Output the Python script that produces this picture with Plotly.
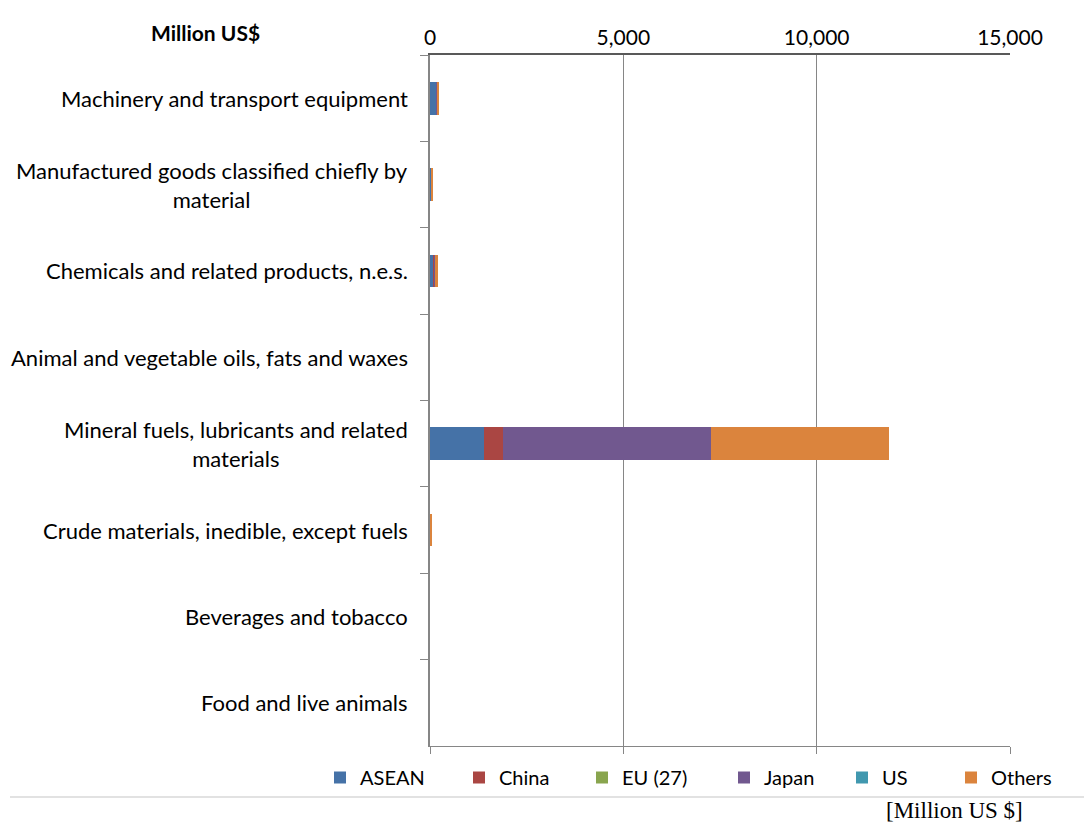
import plotly.graph_objects as go

categories = [
    "Machinery and transport equipment",
    "Manufactured goods classified chiefly by<br>material",
    "Chemicals and related products, n.e.s.",
    "Animal and vegetable oils, fats and waxes",
    "Mineral fuels, lubricants and related<br>materials",
    "Crude materials, inedible, except fuels",
    "Beverages and tobacco",
    "Food and live animals",
]
series_names = ["ASEAN", "China", "EU (27)", "Japan", "US", "Others"]
asean = [170, 30, 100, 0, 1400, 0, 0, 0]
china = [5, 5, 20, 0, 500, 0, 0, 0]
eu27 = [2, 0, 2, 0, 0, 0, 0, 0]
japan = [5, 10, 10, 0, 5360, 0, 0, 0]
us = [3, 0, 2, 0, 0, 0, 0, 0]
others = [55, 30, 70, 0, 4620, 50, 0, 0]
values = [asean, china, eu27, japan, us, others]
colors = ["#4572A7", "#AA4643", "#89A54E", "#71588F", "#4198AF", "#DB843D"]
x_ticks = [0, 5000, 10000, 15000]

font_family = "Lato, 'Open Sans', sans-serif"

# page body has an 8px margin; work in reference pixels and shift
OFF = 8
W, H = 1092 - 2 * OFF, 831 - 2 * OFF
L, R, T, B = 430 - OFF, 1010 - OFF, 55 - OFF, 746 - OFF
pw, ph = R - L, B - T


def px_x(x):
    return (x - OFF - L) / pw


def px_y(y):
    return (B - (y - OFF)) / ph


legend_widths = [94, 78, 97, 73, 64, 60]

fig = go.Figure()
for name, vals, col, lw in zip(series_names, values, colors, legend_widths):
    fig.add_trace(go.Bar(
        y=categories, x=vals, name=name, orientation="h",
        marker=dict(color=col, line=dict(width=0)), legendwidth=lw,
    ))

# invisible helper trace for the bottom axis ticks
fig.add_trace(go.Scatter(x=[0, 15000], y=[categories[0], categories[0]], xaxis="x2",
                         mode="markers", marker=dict(opacity=0), showlegend=False,
                         hoverinfo="skip"))

fig.update_layout(
    barmode="stack",
    bargap=0.62,
    width=W, height=H,
    margin=dict(l=L, r=W - R, t=T, b=H - B, autoexpand=False),
    paper_bgcolor="white", plot_bgcolor="white",
    font=dict(family=font_family, size=22, color="#000000"),
    xaxis=dict(
        side="top", range=[0, 15000], tickvals=x_ticks, tickformat=",",
        showgrid=True, gridcolor="#868686", gridwidth=1,
        showline=True, linecolor="#595959", linewidth=1.5,
        ticks="", zeroline=False, tickfont=dict(size=21), automargin=False,
        fixedrange=True,
    ),
    xaxis2=dict(
        overlaying="x", side="bottom", anchor="y", range=[0, 15000], tickvals=x_ticks,
        showticklabels=False, ticks="outside", ticklen=7, tickcolor="#868686",
        showline=True, linecolor="#868686", linewidth=1, showgrid=False, zeroline=False,
        automargin=False,
    ),
    yaxis=dict(
        autorange="reversed", showticklabels=False, automargin=False,
        ticks="outside", tickson="boundaries", ticklen=8, tickcolor="#868686",
        showline=True, linecolor="#868686", linewidth=1.5, showgrid=False,
    ),
    legend=dict(
        orientation="h",
        x=px_x(320), y=px_y(758), xanchor="left", yanchor="top",
        font=dict(size=20), itemwidth=30, traceorder="normal",
        bgcolor="rgba(0,0,0,0)",
    ),
    showlegend=True,
)

# category labels (centered lines, right-anchored block)
for cat in categories:
    fig.add_annotation(
        x=0, xref="paper", xanchor="right", xshift=-20,
        y=cat, yref="y", text=cat, showarrow=False, align="center",
        font=dict(size=22, family=font_family),
    )

fig.add_annotation(
    x=px_x(205), y=px_y(33), xref="paper", yref="paper",
    xanchor="center", yanchor="middle",
    text="<b>Million US$</b>", showarrow=False,
    font=dict(size=21, family=font_family),
)

fig.add_shape(type="line", xref="paper", yref="paper",
              x0=px_x(10), x1=px_x(1092),
              y0=px_y(797), y1=px_y(797),
              line=dict(color="#D9D9D9", width=1.5))

fig.add_annotation(
    x=px_x(1025), y=px_y(810), xref="paper", yref="paper",
    xanchor="right", yanchor="middle", text="[Million US $]", showarrow=False,
    font=dict(size=23, family="'Liberation Serif', 'Times New Roman', serif"),
)

fig.write_html("out.html")
